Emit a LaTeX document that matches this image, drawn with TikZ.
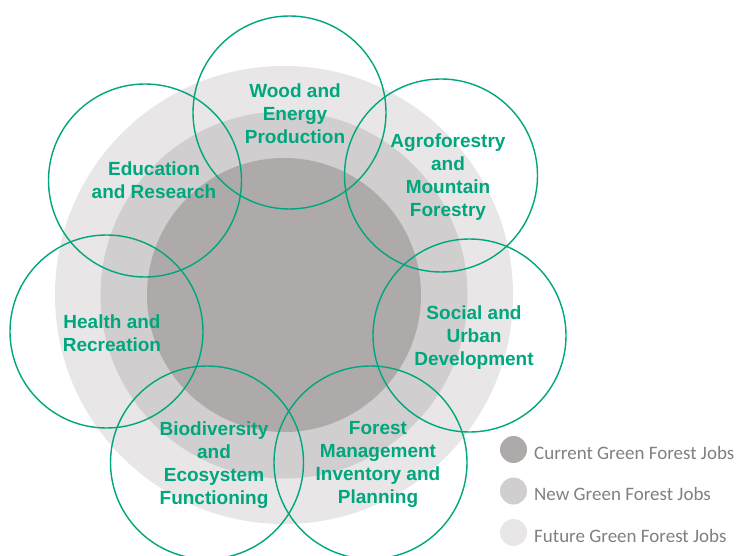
\documentclass[tikz,border=0pt]{standalone}
\usepackage{fontspec}
\setmainfont{Liberation Sans}
\newfontfamily\legendfont{Carlito}
\begin{document}
\begin{tikzpicture}[x=1pt,y=-1pt,
  ringcol/.style={draw=none,circle,inner sep=0pt},
  topic/.style={draw=forestgreen,line width=1.4pt,circle,inner sep=0pt,minimum size=193pt},
  topictext/.style={text=forestgreen,align=center,font=\bfseries\fontsize{19}{23}\selectfont,inner sep=0pt},
  legenddot/.style={circle,inner sep=0pt,minimum size=27pt},
  legendtext/.style={anchor=base west,text=legendgray,font=\legendfont\fontsize{19}{23}\selectfont,inner sep=0pt}]
\definecolor{forestgreen}{RGB}{0,166,125}
\definecolor{futuregray}{RGB}{232,230,231}
\definecolor{newgray}{RGB}{208,206,207}
\definecolor{currentgray}{RGB}{174,170,169}
\definecolor{legendgray}{RGB}{128,128,128}
\useasboundingbox[fill=white] (0,0) rectangle (739,556);

% concentric job rings
\node[ringcol,fill=futuregray,minimum size=458pt] (future) at (284,295) {};
\node[ringcol,fill=newgray,minimum size=367pt] (new) at (284,295) {};
\node[ringcol,fill=currentgray,minimum size=274pt] (current) at (284,295) {};

% topic circles
\node[topic] (wood) at (289.5,112.5) {};
\node[topic] (agro) at (441,175.5) {};
\node[topic] (social) at (469.5,335.5) {};
\node[topic] (forest) at (370.5,462.5) {};
\node[topic] (bio) at (207,462.5) {};
\node[topic] (health) at (106.5,331.5) {};
\node[topic] (edu) at (145,180.5) {};

% topic labels
\node[topictext] (woodtext) at (295,113.5) {Wood and\\Energy\\Production};
\node[topictext] (agrotext) at (448,177.5) {Agroforestry\\and\\Mountain\\Forestry};
\node[topictext] (socialtext) at (474,338) {Social and\\Urban\\Development};
\node[topictext] (foresttext) at (378,464.5) {Forest\\Management\\Inventory and\\Planning};
\node[topictext] (biotext) at (214,465) {Biodiversity\\and\\Ecosystem\\Functioning};
\node[topictext] (healthtext) at (112,333) {Health and\\Recreation};
\node[topictext] (edutext) at (154,180) {Education\\and Research};

% legend
\node[legenddot,fill=currentgray] (leg1) at (513.5,449.5) {};
\node[legenddot,fill=newgray] (leg2) at (513.5,491) {};
\node[legenddot,fill=futuregray] (leg3) at (513.5,532.5) {};
\node[legendtext] (leg1text) at (534,459.5) {Current Green Forest Jobs};
\node[legendtext] (leg2text) at (534,500.5) {New Green Forest Jobs};
\node[legendtext] (leg3text) at (534,542) {Future Green Forest Jobs};
\end{tikzpicture}
\end{document}
